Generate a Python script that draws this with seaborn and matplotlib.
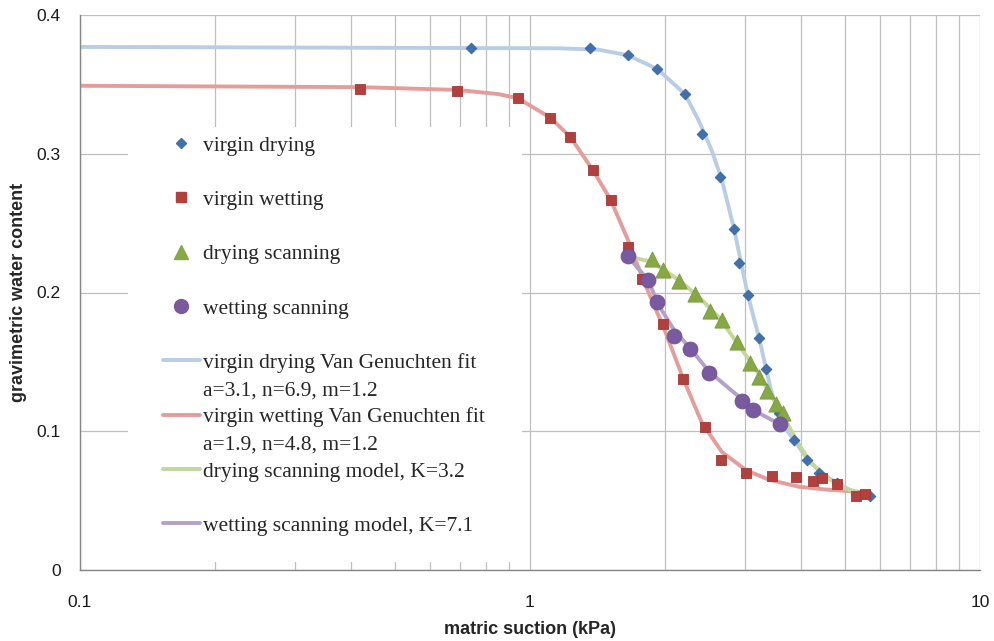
import matplotlib
matplotlib.use("Agg")
import matplotlib.pyplot as plt
from matplotlib.lines import Line2D
from matplotlib.patches import Rectangle
from matplotlib.ticker import FixedLocator, NullFormatter, LogLocator
import seaborn as sns

# ---- measured data: matric suction (kPa) vs gravimetric water content ----
vd_suction = [0.74, 1.36, 1.65, 1.92, 2.21, 2.41, 2.64, 2.84, 2.91, 3.05, 3.23,
              3.35, 3.58, 3.86, 4.13, 4.39, 4.81, 5.70]
vd_water = [0.376, 0.376, 0.371, 0.361, 0.343, 0.314, 0.283, 0.246, 0.221, 0.198,
            0.167, 0.145, 0.113, 0.094, 0.079, 0.070, 0.063, 0.053]

vw_suction = [0.42, 0.69, 0.94, 1.11, 1.23, 1.38, 1.51, 1.65, 1.77, 1.98, 2.19,
              2.45, 2.66, 3.02, 3.45, 3.90, 4.26, 4.46, 4.81, 5.30, 5.55]
vw_water = [0.347, 0.345, 0.340, 0.326, 0.312, 0.288, 0.267, 0.233, 0.210, 0.177,
            0.138, 0.103, 0.079, 0.070, 0.068, 0.067, 0.064, 0.066, 0.062, 0.053, 0.055]

ds_suction = [1.87, 1.98, 2.14, 2.33, 2.51, 2.67, 2.88, 3.08, 3.23, 3.36, 3.52, 3.65]
ds_water = [0.224, 0.216, 0.208, 0.199, 0.187, 0.180, 0.164, 0.149, 0.139, 0.129,
            0.120, 0.113]

ws_suction = [1.65, 1.83, 1.92, 2.09, 2.27, 2.50, 2.96, 3.13, 3.59]
ws_water = [0.226, 0.209, 0.193, 0.169, 0.159, 0.142, 0.122, 0.115, 0.105]

# ---- fitted / model curves ----
vdfit_suction = [0.1, 1.16, 1.42, 1.65, 1.92, 2.21, 2.37, 2.53, 2.67, 2.84, 3.05,
                 3.23, 3.43, 3.63, 3.86, 4.17, 4.63, 5.12, 5.70]
vdfit_water = [0.377, 0.376, 0.375, 0.371, 0.361, 0.343, 0.324, 0.303, 0.281, 0.246,
               0.198, 0.167, 0.130, 0.105, 0.094, 0.078, 0.066, 0.058, 0.053]

vwfit_suction = [0.1, 0.42, 0.69, 0.85, 0.94, 1.11, 1.23, 1.38, 1.51, 1.65, 1.79,
                 1.98, 2.19, 2.41, 2.67, 3.02, 3.40, 3.96, 4.54, 5.58]
vwfit_water = [0.349, 0.348, 0.346, 0.343, 0.340, 0.326, 0.312, 0.288, 0.267, 0.238,
               0.208, 0.175, 0.138, 0.106, 0.085, 0.072, 0.065, 0.060, 0.058, 0.056]

dsm_suction = [1.65, 1.87, 2.14, 2.37, 2.63, 2.91, 3.20, 3.43, 3.67, 3.90, 4.17,
               4.50, 4.98, 5.70]
dsm_water = [0.226, 0.222, 0.209, 0.197, 0.182, 0.162, 0.143, 0.126, 0.110, 0.094,
             0.079, 0.068, 0.059, 0.053]

wsm_suction = [1.65, 1.83, 1.93, 2.09, 2.28, 2.50, 2.96, 3.23, 3.59]
wsm_water = [0.226, 0.209, 0.191, 0.173, 0.159, 0.143, 0.123, 0.113, 0.105]

# ---- labels ----
series_labels = ["virgin drying", "virgin wetting", "drying scanning", "wetting scanning"]
fit_labels = ["virgin drying Van Genuchten fit", "a=3.1, n=6.9, m=1.2",
              "virgin wetting Van Genuchten fit", "a=1.9, n=4.8, m=1.2",
              "drying scanning model, K=3.2", "wetting scanning model, K=7.1"]
x_ticks = [0.1, 1, 10]
x_tick_labels = ["0.1", "1", "10"]
y_ticks = [0, 0.1, 0.2, 0.3, 0.4]
y_tick_labels = ["0", "0.1", "0.2", "0.3", "0.4"]

sns.set_style("white")
plt.rcParams["font.family"] = ["Liberation Sans", "DejaVu Sans"]

# colours
c_blue_m, c_blue_l = "#4170AD", "#B9CDE5"
c_red_m, c_red_l = "#B2403D", "#E39E9C"
c_green_m, c_green_l = "#86A845", "#C3D69B"
c_purple_m, c_purple_l = "#79599F", "#B3A2C7"
grid_c = "#BFBFBF"
axis_c = "#868686"

fig = plt.figure(figsize=(9.95, 6.41), dpi=100)
ax = fig.add_axes([80 / 995, 1 - 570 / 641, 900 / 995, 555 / 641])

lw = 2.8
sns.lineplot(x=vdfit_suction, y=vdfit_water, sort=False, estimator=None,
             color=c_blue_l, lw=lw, ax=ax, zorder=2)
sns.lineplot(x=vwfit_suction, y=vwfit_water, sort=False, estimator=None,
             color=c_red_l, lw=lw, ax=ax, zorder=2)
sns.lineplot(x=dsm_suction, y=dsm_water, sort=False, estimator=None,
             color=c_green_l, lw=lw, ax=ax, zorder=2)
sns.lineplot(x=wsm_suction, y=wsm_water, sort=False, estimator=None,
             color=c_purple_l, lw=lw, ax=ax, zorder=2)

sns.scatterplot(x=vd_suction, y=vd_water, marker="D", s=30, color=c_blue_m,
                edgecolor="#3A659C", linewidth=0.6, ax=ax, zorder=3)
sns.scatterplot(x=vw_suction, y=vw_water, marker="s", s=55, color=c_red_m,
                edgecolor="#A03A37", linewidth=0.6, ax=ax, zorder=3)
sns.scatterplot(x=ds_suction, y=ds_water, marker="^", s=120, color=c_green_m,
                edgecolor="#7A9A3E", linewidth=0.6, ax=ax, zorder=3)
sns.scatterplot(x=ws_suction, y=ws_water, marker="o", s=115, color=c_purple_m,
                edgecolor="#6E5192", linewidth=0.6, ax=ax, zorder=3)

ax.set_xscale("log")
ax.set_xlim(0.1, 10)
ax.set_ylim(0, 0.4)
ax.xaxis.set_major_locator(FixedLocator(x_ticks))
ax.set_xticklabels(x_tick_labels)
ax.xaxis.set_minor_locator(LogLocator(base=10, subs=range(2, 10)))
ax.xaxis.set_minor_formatter(NullFormatter())
ax.set_yticks(y_ticks)
ax.set_yticklabels(y_tick_labels)

ax.set_axisbelow(True)
ax.grid(True, which="major", axis="both", color=grid_c, lw=0.9)
ax.grid(True, which="minor", axis="x", color=grid_c, lw=0.9)

for side in ["top", "right"]:
    ax.spines[side].set_visible(False)
for side in ["left", "bottom"]:
    ax.spines[side].set_color(axis_c)
    ax.spines[side].set_linewidth(1.0)

ax.tick_params(axis="both", which="major", direction="out", length=5, width=1,
               color=axis_c, labelsize=12.5, labelcolor="#1a1a1a")
ax.tick_params(axis="x", which="major", pad=13)
ax.tick_params(axis="y", which="major", pad=9)
ax.tick_params(axis="x", which="minor", length=0)

ax.set_xlabel("matric suction (kPa)", fontsize=13, fontweight="bold", labelpad=8)
ax.set_ylabel("gravimetric water content", fontsize=13, fontweight="bold", labelpad=7)

# white legend panel over the grid
ax.add_patch(Rectangle((0.053, 0.0144), 0.438, 0.784, transform=ax.transAxes,
                       facecolor="white", edgecolor="none", zorder=1.5))

blank = Line2D([], [], ls="none")
handles = [
    Line2D([], [], ls="none", marker="D", ms=5.5, color=c_blue_m), blank,
    Line2D([], [], ls="none", marker="s", ms=7, color=c_red_m), blank,
    Line2D([], [], ls="none", marker="^", ms=10, color=c_green_m), blank,
    Line2D([], [], ls="none", marker="o", ms=10, color=c_purple_m), blank,
    Line2D([], [], color=c_blue_l, lw=lw), blank,
    Line2D([], [], color=c_red_l, lw=lw), blank,
    Line2D([], [], color=c_green_l, lw=lw), blank,
    Line2D([], [], color=c_purple_l, lw=lw),
]
labels = [series_labels[0], "", series_labels[1], "", series_labels[2], "",
          series_labels[3], "", fit_labels[0], fit_labels[1], fit_labels[2],
          fit_labels[3], fit_labels[4], "", fit_labels[5]]
ax.legend(handles, labels, loc="upper left", bbox_to_anchor=(0.0922, 0.783),
          frameon=False, prop={"family": ["Liberation Serif", "DejaVu Serif"], "size": 15.5},
          handlelength=1.72, handletextpad=0.15, labelspacing=0.33,
          borderpad=0, borderaxespad=0)

fig.savefig("out.png", dpi=100, facecolor="white")
